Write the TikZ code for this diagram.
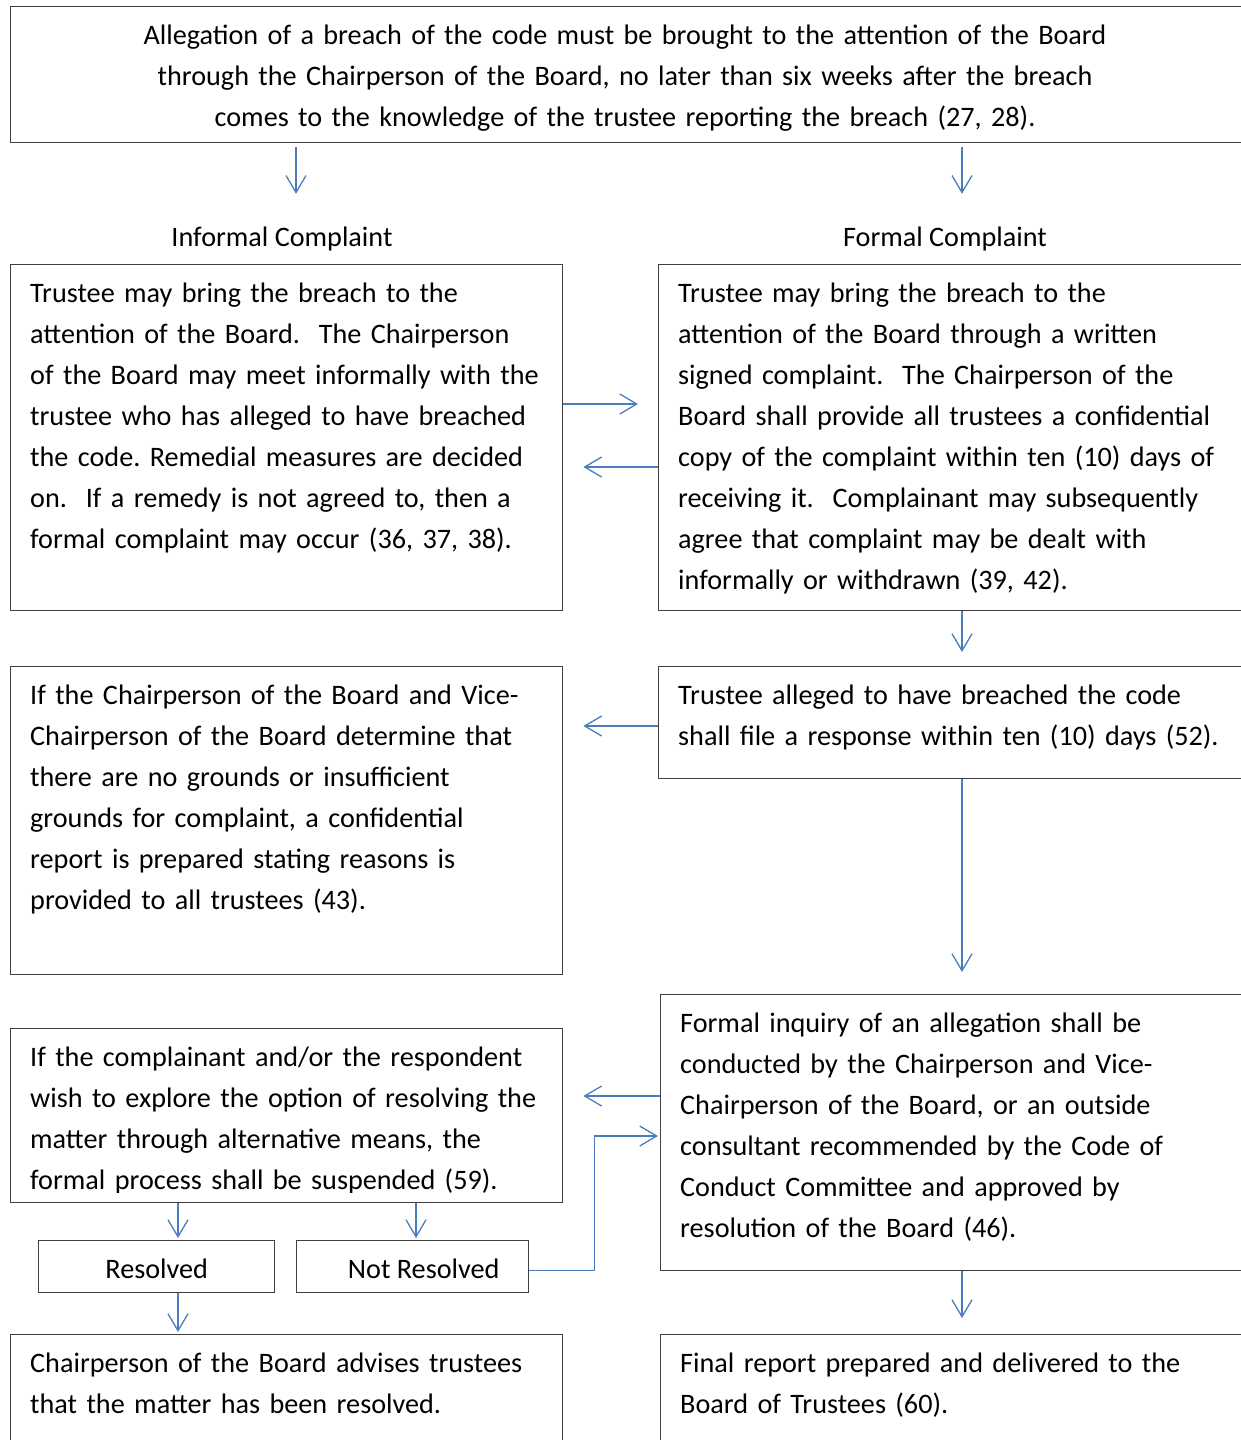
\documentclass[tikz,border=0pt]{standalone}
\usepackage{fontspec}
\setmainfont{Carlito}
\usepackage{tikz}
\usetikzlibrary{arrows.meta,calc,positioning}
\definecolor{boxgray}{RGB}{64,64,64}
\definecolor{arrblue}{RGB}{74,126,187}
\newcommand{\bodysize}{\fontsize{28.2}{41}\selectfont\frenchspacing}
\tikzset{
  box/.style={draw=boxgray, line width=1.4pt, inner sep=0pt, anchor=north west},
  boxtext/.style={inner sep=0pt, anchor=north west, text width=620pt, align=left, font=\bodysize},
  steplabel/.style={inner sep=0pt, text height=20pt, text depth=6pt, anchor=base, font=\bodysize},
  outcome/.style={box, minimum height=52pt, font=\bodysize, text height=24pt, text depth=0pt},
  arr/.style={draw=arrblue, line width=1.3pt, -{Straight Barb[length=17pt,width=20pt]}},
}
\begin{document}
\begin{tikzpicture}[x=1pt,y=-1pt]
\useasboundingbox (0,0) rectangle (1241,1440);
\clip (0,0) rectangle (1241,1440);
% Boxes
\node[box, minimum width=1300pt, minimum height=136pt] (top) at (10,6) {};
\node[box, minimum width=552pt, minimum height=346pt] (informal) at (10,264) {};
\node[box, minimum width=700pt, minimum height=346pt] (formal) at (658,264) {};
\node[box, minimum width=552pt, minimum height=308pt] (noground) at (10,666) {};
\node[box, minimum width=700pt, minimum height=112pt] (response) at (658,666) {};
\node[box, minimum width=700pt, minimum height=276pt] (inquiry) at (660,994) {};
\node[box, minimum width=552pt, minimum height=174pt] (suspend) at (10,1028) {};
\node[outcome, minimum width=236pt] (resolved) at (38,1240) {Resolved};
\node[outcome, minimum width=232pt] (notres) at (296,1240) {\hspace*{22pt}Not Resolved};
\node[box, minimum width=552pt, minimum height=200pt] (advise) at (10,1334) {};
\node[box, minimum width=700pt, minimum height=200pt] (final) at (660,1334) {};
% Texts
\node[boxtext, anchor=north, align=center, text width=1150pt] (toptxt) at ($(top.north west)+(615,9.3)$) {\strut Allegation of a breach of the code must be brought to the attention of the Board\\
through the Chairperson of the Board, no later than six weeks after the breach\\
comes to the knowledge of the trustee reporting the breach (27, 28).};
\node[steplabel] (inflab) at (282,246) {Informal Complaint};
\node[steplabel] (formlab) at (945,246) {Formal Complaint};
\node[boxtext] (informaltxt) at ($(informal.north west)+(20,9.3)$) {\strut Trustee may bring the breach to the\\
attention of the Board.\ \ The Chairperson\\
of the Board may meet informally with the\\
trustee who has alleged to have breached\\
the code. Remedial measures are decided\\
on.\ \ If a remedy is not agreed to, then a\\
formal complaint may occur (36, 37, 38).};
\node[boxtext] (formaltxt) at ($(formal.north west)+(20,9.3)$) {\strut Trustee may bring the breach to the\\
attention of the Board through a written\\
signed complaint.\ \ The Chairperson of the\\
Board shall provide all trustees a confidential\\
copy of the complaint within ten (10) days of\\
receiving it.\ \ Complainant may subsequently\\
agree that complaint may be dealt with\\
informally or withdrawn (39, 42).};
\node[boxtext] (nogroundtxt) at ($(noground.north west)+(20,9.3)$) {\strut If the Chairperson of the Board and Vice-\\
Chairperson of the Board determine that\\
there are no grounds or insufficient\\
grounds for complaint, a confidential\\
report is prepared stating reasons is\\
provided to all trustees (43).};
\node[boxtext] (responsetxt) at ($(response.north west)+(20,9.3)$) {\strut Trustee alleged to have breached the code\\
shall file a response within ten (10) days (52).};
\node[boxtext] (inquirytxt) at ($(inquiry.north west)+(20,9.3)$) {\strut Formal inquiry of an allegation shall be\\
conducted by the Chairperson and Vice-\\
Chairperson of the Board, or an outside\\
consultant recommended by the Code of\\
Conduct Committee and approved by\\
resolution of the Board (46).};
\begin{scope}
\clip (10,1028) rectangle (562,1192);
\node[boxtext] (suspendtxt) at ($(suspend.north west)+(20,9.3)$) {\strut If the complainant and/or the respondent\\
wish to explore the option of resolving the\\
matter through alternative means, the\\
formal process shall be suspended (59).};
\end{scope}
\node[boxtext] (advisetxt) at ($(advise.north west)+(20,9.3)$) {\strut Chairperson of the Board advises trustees\\
that the matter has been resolved.};
\node[boxtext] (finaltxt) at ($(final.north west)+(20,9.3)$) {\strut Final report prepared and delivered to the\\
Board of Trustees (60).};
% Connectors
\draw[arr, shorten >=32pt] ($(top.south west)+(286,4)$) coordinate (t1) -- (t1 |- inflab.north);
\draw[arr, shorten >=32pt] ($(top.south west)+(952,4)$) coordinate (t2) -- (t2 |- formlab.north);
\draw[arr, shorten >=20pt] ($(informal.north east)+(0,140)$) coordinate (h1) -- (h1 -| formal.west);
\draw[arr, shorten >=20pt] ($(formal.north west)+(0,203)$) coordinate (h2) -- (h2 -| informal.east);
\draw[arr, shorten >=14pt] ($(formal.south west)+(304,0)$) coordinate (v1) -- (v1 |- response.north);
\draw[arr, shorten >=20pt] ($(response.north west)+(0,60)$) coordinate (h3) -- (h3 -| noground.east);
\draw[arr, shorten >=22pt] ($(response.south west)+(304,0)$) coordinate (v2) -- (v2 |- inquiry.north);
\draw[arr, shorten >=20pt] ($(inquiry.north west)+(0,102)$) coordinate (h4) -- (h4 -| suspend.east);
\draw[arr, shorten >=2pt] ($(notres.east)+(0,4)$) -- ++(65,0) |- ($(inquiry.north west)+(0,142)$);
\draw[arr, shorten >=2pt] ($(suspend.south west)+(168,0)$) coordinate (v3) -- (v3 |- resolved.north);
\draw[arr, shorten >=2pt] ($(suspend.south west)+(406,0)$) coordinate (v4) -- (v4 |- notres.north);
\draw[arr, shorten >=2pt] ($(resolved.south west)+(140,0)$) coordinate (v5) -- (v5 |- advise.north);
\draw[arr, shorten >=16pt] ($(inquiry.south west)+(302,0)$) coordinate (v6) -- (v6 |- final.north);
\end{tikzpicture}
\end{document}
